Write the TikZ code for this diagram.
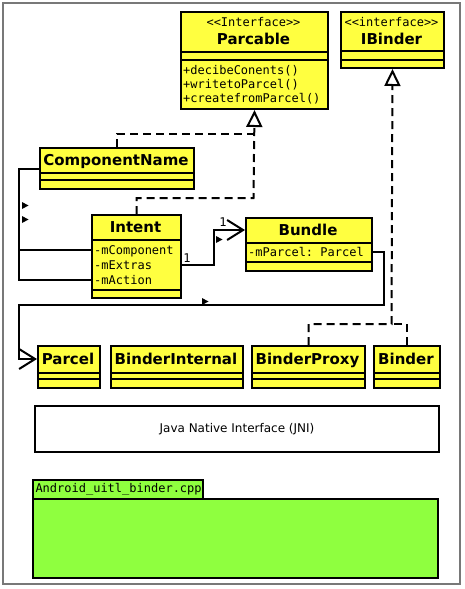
\documentclass[tikz,border=0pt]{standalone}
\usepackage{fontspec}
\setmainfont{DejaVu Sans}
\setmonofont{DejaVu Sans Mono}
\usetikzlibrary{arrows.meta}
\definecolor{umlyellow}{RGB}{255,255,64}
\definecolor{pkggreen}{RGB}{143,255,63}
\definecolor{framegray}{RGB}{120,120,120}
\newcommand\clsline[2]{\draw[line width=2pt] ([yshift=-#2pt]#1.north west) -- ([yshift=-#2pt]#1.north east);}
\newcommand\dirmark[2]{\fill (#1,#2) -- ++(6.5,3.5) -- ++(-6.5,3.5) -- cycle;}
\begin{document}
\begin{tikzpicture}[x=1pt,y=-1pt,
  cls/.style={draw=black, line width=2pt, fill=umlyellow, inner sep=0pt, anchor=north west},
  ttl/.style={font=\fontsize{15}{17}\selectfont\bfseries, inner sep=0pt, text height=10.9pt, text depth=0pt},
  stereo/.style={font=\fontsize{12}{14}\selectfont\ttfamily, inner sep=0pt, text height=8.8pt, text depth=0pt},
  attr/.style={font=\fontsize{12}{14}\selectfont\ttfamily, inner sep=0pt, anchor=west, text height=8.8pt, text depth=0pt},
  conn/.style={line width=2pt},
  dep/.style={line width=2pt, dash pattern=on 8pt off 5pt},
  gen/.style={-{Triangle[open, length=17pt, width=16pt, line width=2pt]}},
  nav/.style={-{Straight Barb[length=16pt, width=20pt, line width=2pt]}},
  mult/.style={font=\fontsize{12}{14}\selectfont\ttfamily, inner sep=0pt, text height=8.8pt, text depth=0pt}
]
\useasboundingbox (0,0) rectangle (465,589);
\draw[framegray, line width=1.2pt] (3,3) rectangle (460,584);

% Parcable
\node[cls, minimum width=147pt, minimum height=97pt] (parcable) at (180,11) {};
\clsline{parcable}{41}\clsline{parcable}{49}
\node[stereo] (parcable-st) at (253.5,22) {<<Interface>>};
\node[ttl] (parcable-t) at (253.5,39) {Parcable};
\node[attr] (pm1) at (183,70) {+decibeConents()};
\node[attr] (pm2) at (183,84) {+writetoParcel()};
\node[attr] (pm3) at (183,98) {+createfromParcel()};

% IBinder
\node[cls, minimum width=103pt, minimum height=56pt] (ibinder) at (340,11) {};
\clsline{ibinder}{40}\clsline{ibinder}{49}
\node[stereo] (ibinder-st) at (391.5,22) {<<interface>>};
\node[ttl] (ibinder-t) at (391.5,39) {IBinder};

% ComponentName
\node[cls, minimum width=154pt, minimum height=41pt] (cn) at (39,147) {};
\clsline{cn}{26}\clsline{cn}{33}
\node[ttl] (cn-t) at (116,160) {ComponentName};

% Intent
\node[cls, minimum width=89pt, minimum height=83pt] (intent) at (91,214) {};
\clsline{intent}{26}\clsline{intent}{76}
\node[ttl] (intent-t) at (135.5,227) {Intent};
\node[attr] (icomp) at (94,250) {-mComponent};
\node[attr] (iext) at (94,265) {-mExtras};
\node[attr] (iact) at (94,280) {-mAction};

% Bundle
\node[cls, minimum width=126pt, minimum height=53pt] (bundle) at (245,217) {};
\clsline{bundle}{26}\clsline{bundle}{45}
\node[ttl] (bundle-t) at (308,230) {Bundle};
\node[attr] (bpar) at (248,252) {-mParcel: Parcel};

% bottom row
\node[cls, minimum width=62pt, minimum height=42pt] (parcel) at (37,345) {};
\clsline{parcel}{28}\clsline{parcel}{34}
\node[ttl] (parcel-t) at (68,359) {Parcel};
\node[cls, minimum width=132pt, minimum height=42pt] (binternal) at (110,345) {};
\clsline{binternal}{28}\clsline{binternal}{34}
\node[ttl] (binternal-t) at (176,359) {BinderInternal};
\node[cls, minimum width=113pt, minimum height=42pt] (bproxy) at (251,345) {};
\clsline{bproxy}{28}\clsline{bproxy}{34}
\node[ttl] (bproxy-t) at (307.5,359) {BinderProxy};
\node[cls, minimum width=66pt, minimum height=42pt] (binder) at (373,345) {};
\clsline{binder}{28}\clsline{binder}{34}
\node[ttl] (binder-t) at (406,359) {Binder};

% JNI
\node[draw, line width=2pt, fill=white, anchor=north west, minimum width=404pt, minimum height=46pt,
  font=\fontsize{12}{14}\selectfont] (jni) at (34,405) {Java Native Interface (JNI)};

% package
\node[draw, line width=2pt, fill=pkggreen, anchor=north west, minimum width=405pt, minimum height=79pt] (pkg) at (32,498) {};
\node[draw, line width=2pt, fill=pkggreen, anchor=north west, minimum width=170pt, minimum height=19pt,
  inner sep=1.5pt, font=\fontsize{12}{14}\selectfont\ttfamily] (tab) at (32,479) {\makebox[165pt][l]{Android\_uitl\_binder.cpp}};

% generalizations to Parcable
\coordinate (pj1) at (253.5,134);
\coordinate (pj2) at (253.5,198);
\draw[dep] (cn.north) |- (pj1);
\draw[dep, gen] (intent.north) |- (pj2) -- (parcable.south);

% generalizations to IBinder
\coordinate (bj) at (391.5,324);
\draw[dep] (binder.north) |- (bj);
\draw[dep, gen] (bproxy.north) |- (bj) -- (ibinder.south);

% associations Intent -> ComponentName
\draw[conn] (cn.west) -- ++(-20,0) |- (intent.west |- iact.west);
\draw[conn] (intent.west |- icomp.west) -- ++(-72,0);
\dirmark{22}{202}
\dirmark{22}{216}

% Intent -> Bundle
\draw[conn, nav] (intent.east |- iext.west) -- ++(32,0) |- (bundle.west |- bundle-t);
\node[mult] (m1) at (187,258) {1};
\node[mult] (m2) at (223,222) {1};
\dirmark{216}{236}

% Bundle -> Parcel
\coordinate (bp1) at (19,305);
\draw[conn, nav] (bundle.east |- bpar.west) -- ++(11,0) |- (bp1) |- (parcel.west |- parcel-t);
\dirmark{202}{298}
\end{tikzpicture}
\end{document}
